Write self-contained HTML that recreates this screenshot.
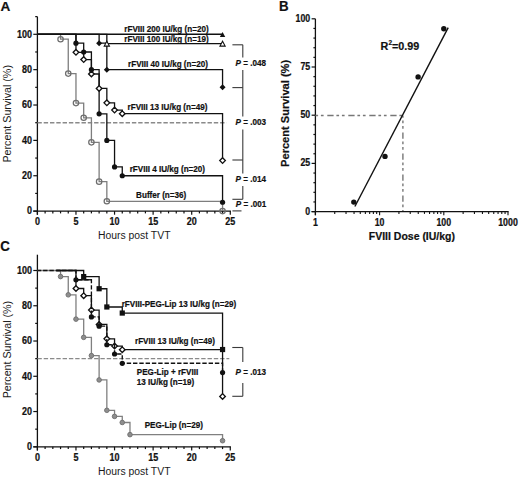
<!DOCTYPE html>
<html><head><meta charset="utf-8"><style>
html,body{margin:0;padding:0;background:#fff;}
body{width:520px;height:479px;overflow:hidden;}
svg{display:block;}
text{stroke:#111;stroke-width:0.2px;}
</style></head><body>
<svg width="520" height="479" viewBox="0 0 520 479">
<rect width="520" height="479" fill="#fff"/>
<text transform="translate(0.60,10.60) scale(1,1.0)" text-anchor="start" font-size="13.6" font-weight="bold" font-family="'Liberation Sans', sans-serif" fill="#111">A</text>
<line x1="37.40" y1="16.62" x2="37.40" y2="214.70" stroke="#111" stroke-width="1.3"/>
<line x1="33.30" y1="211.10" x2="230.88" y2="211.10" stroke="#111" stroke-width="1.3"/>
<line x1="33.30" y1="211.10" x2="37.40" y2="211.10" stroke="#111" stroke-width="1.2"/>
<text transform="translate(31.90,214.40) scale(1,1.16)" text-anchor="end" font-size="9" font-weight="bold" font-family="'Liberation Sans', sans-serif" fill="#111">0</text>
<line x1="35.20" y1="193.42" x2="37.40" y2="193.42" stroke="#111" stroke-width="1.2"/>
<line x1="33.30" y1="175.74" x2="37.40" y2="175.74" stroke="#111" stroke-width="1.2"/>
<text transform="translate(31.90,179.04) scale(1,1.16)" text-anchor="end" font-size="9" font-weight="bold" font-family="'Liberation Sans', sans-serif" fill="#111">20</text>
<line x1="35.20" y1="158.06" x2="37.40" y2="158.06" stroke="#111" stroke-width="1.2"/>
<line x1="33.30" y1="140.38" x2="37.40" y2="140.38" stroke="#111" stroke-width="1.2"/>
<text transform="translate(31.90,143.68) scale(1,1.16)" text-anchor="end" font-size="9" font-weight="bold" font-family="'Liberation Sans', sans-serif" fill="#111">40</text>
<line x1="35.20" y1="122.70" x2="37.40" y2="122.70" stroke="#111" stroke-width="1.2"/>
<line x1="33.30" y1="105.02" x2="37.40" y2="105.02" stroke="#111" stroke-width="1.2"/>
<text transform="translate(31.90,108.32) scale(1,1.16)" text-anchor="end" font-size="9" font-weight="bold" font-family="'Liberation Sans', sans-serif" fill="#111">60</text>
<line x1="35.20" y1="87.34" x2="37.40" y2="87.34" stroke="#111" stroke-width="1.2"/>
<line x1="33.30" y1="69.66" x2="37.40" y2="69.66" stroke="#111" stroke-width="1.2"/>
<text transform="translate(31.90,72.96) scale(1,1.16)" text-anchor="end" font-size="9" font-weight="bold" font-family="'Liberation Sans', sans-serif" fill="#111">80</text>
<line x1="35.20" y1="51.98" x2="37.40" y2="51.98" stroke="#111" stroke-width="1.2"/>
<line x1="33.30" y1="34.30" x2="37.40" y2="34.30" stroke="#111" stroke-width="1.2"/>
<text transform="translate(31.90,37.60) scale(1,1.16)" text-anchor="end" font-size="9" font-weight="bold" font-family="'Liberation Sans', sans-serif" fill="#111">100</text>
<line x1="35.20" y1="16.62" x2="37.40" y2="16.62" stroke="#111" stroke-width="1.2"/>
<line x1="37.40" y1="211.10" x2="37.40" y2="214.70" stroke="#111" stroke-width="1.2"/>
<text transform="translate(37.40,225.30) scale(1,1.16)" text-anchor="middle" font-size="9" font-weight="bold" font-family="'Liberation Sans', sans-serif" fill="#111">0</text>
<line x1="45.11" y1="211.10" x2="45.11" y2="213.40" stroke="#111" stroke-width="1.2"/>
<line x1="52.83" y1="211.10" x2="52.83" y2="213.40" stroke="#111" stroke-width="1.2"/>
<line x1="60.55" y1="211.10" x2="60.55" y2="213.40" stroke="#111" stroke-width="1.2"/>
<line x1="68.26" y1="211.10" x2="68.26" y2="213.40" stroke="#111" stroke-width="1.2"/>
<line x1="75.97" y1="211.10" x2="75.97" y2="214.70" stroke="#111" stroke-width="1.2"/>
<text transform="translate(75.97,225.30) scale(1,1.16)" text-anchor="middle" font-size="9" font-weight="bold" font-family="'Liberation Sans', sans-serif" fill="#111">5</text>
<line x1="83.69" y1="211.10" x2="83.69" y2="213.40" stroke="#111" stroke-width="1.2"/>
<line x1="91.41" y1="211.10" x2="91.41" y2="213.40" stroke="#111" stroke-width="1.2"/>
<line x1="99.12" y1="211.10" x2="99.12" y2="213.40" stroke="#111" stroke-width="1.2"/>
<line x1="106.84" y1="211.10" x2="106.84" y2="213.40" stroke="#111" stroke-width="1.2"/>
<line x1="114.55" y1="211.10" x2="114.55" y2="214.70" stroke="#111" stroke-width="1.2"/>
<text transform="translate(114.55,225.30) scale(1,1.16)" text-anchor="middle" font-size="9" font-weight="bold" font-family="'Liberation Sans', sans-serif" fill="#111">10</text>
<line x1="122.26" y1="211.10" x2="122.26" y2="213.40" stroke="#111" stroke-width="1.2"/>
<line x1="129.98" y1="211.10" x2="129.98" y2="213.40" stroke="#111" stroke-width="1.2"/>
<line x1="137.69" y1="211.10" x2="137.69" y2="213.40" stroke="#111" stroke-width="1.2"/>
<line x1="145.41" y1="211.10" x2="145.41" y2="213.40" stroke="#111" stroke-width="1.2"/>
<line x1="153.12" y1="211.10" x2="153.12" y2="214.70" stroke="#111" stroke-width="1.2"/>
<text transform="translate(153.12,225.30) scale(1,1.16)" text-anchor="middle" font-size="9" font-weight="bold" font-family="'Liberation Sans', sans-serif" fill="#111">15</text>
<line x1="160.84" y1="211.10" x2="160.84" y2="213.40" stroke="#111" stroke-width="1.2"/>
<line x1="168.56" y1="211.10" x2="168.56" y2="213.40" stroke="#111" stroke-width="1.2"/>
<line x1="176.27" y1="211.10" x2="176.27" y2="213.40" stroke="#111" stroke-width="1.2"/>
<line x1="183.99" y1="211.10" x2="183.99" y2="213.40" stroke="#111" stroke-width="1.2"/>
<line x1="191.70" y1="211.10" x2="191.70" y2="214.70" stroke="#111" stroke-width="1.2"/>
<text transform="translate(191.70,225.30) scale(1,1.16)" text-anchor="middle" font-size="9" font-weight="bold" font-family="'Liberation Sans', sans-serif" fill="#111">20</text>
<line x1="199.41" y1="211.10" x2="199.41" y2="213.40" stroke="#111" stroke-width="1.2"/>
<line x1="207.13" y1="211.10" x2="207.13" y2="213.40" stroke="#111" stroke-width="1.2"/>
<line x1="214.84" y1="211.10" x2="214.84" y2="213.40" stroke="#111" stroke-width="1.2"/>
<line x1="222.56" y1="211.10" x2="222.56" y2="213.40" stroke="#111" stroke-width="1.2"/>
<line x1="230.28" y1="211.10" x2="230.28" y2="214.70" stroke="#111" stroke-width="1.2"/>
<text transform="translate(230.28,225.30) scale(1,1.16)" text-anchor="middle" font-size="9" font-weight="bold" font-family="'Liberation Sans', sans-serif" fill="#111">25</text>
<text transform="translate(10.60,113.80) rotate(-90) scale(1.02,1)" text-anchor="middle" font-size="10.5" font-family="'Liberation Sans', sans-serif" fill="#1a1a1a" style="stroke:none">Percent Survival (%)</text>
<text transform="translate(134.20,239.40) scale(1,1.08)" text-anchor="middle" font-size="10.4" font-family="'Liberation Sans', sans-serif" fill="#1a1a1a" style="stroke:none">Hours post TVT</text>
<line x1="37.40" y1="122.70" x2="226.50" y2="122.70" stroke="#8a8a8a" stroke-width="1.4" stroke-dasharray="4.4 1.9"/>
<path d="M37.40,34.30 H60.55 V39.21 H68.26 V73.59 H75.97 V103.06 H83.69 V117.79 H91.41 V142.34 H99.12 V181.63 H106.84 V201.28 H222.56 V211.10" fill="none" stroke="#7e7e7e" stroke-width="1.3"/>
<path d="M37.40,34.30 H75.97 V43.14 H83.69 V51.98 H91.41 V69.66 H99.12 V113.86 H106.84 V140.38 H114.55 V166.90 H122.26 V175.74 H222.56 V202.26" fill="none" stroke="#111" stroke-width="1.3"/>
<path d="M37.40,34.30 H75.97 V52.34 H83.69 V59.56 H91.41 V73.99 H99.12 V88.42 H106.84 V102.86 H114.55 V110.07 H122.26 V113.68 H222.56 V160.59" fill="none" stroke="#111" stroke-width="1.3"/>
<path d="M37.40,34.30 H99.12 V43.14 H106.84 V69.66 H222.56 V87.34" fill="none" stroke="#111" stroke-width="1.3"/>
<path d="M37.40,34.30 H106.84 V43.61 H222.56 V43.61" fill="none" stroke="#111" stroke-width="1.3"/>
<path d="M37.40,34.30 H222.56 V34.30" fill="none" stroke="#111" stroke-width="1.4"/>
<circle cx="60.55" cy="39.21" r="2.7" fill="none" stroke="#6e6e6e" stroke-width="1.25"/>
<circle cx="68.26" cy="73.59" r="2.7" fill="none" stroke="#6e6e6e" stroke-width="1.25"/>
<circle cx="75.97" cy="103.06" r="2.7" fill="none" stroke="#6e6e6e" stroke-width="1.25"/>
<circle cx="83.69" cy="117.79" r="2.7" fill="none" stroke="#6e6e6e" stroke-width="1.25"/>
<circle cx="91.41" cy="142.34" r="2.7" fill="none" stroke="#6e6e6e" stroke-width="1.25"/>
<circle cx="99.12" cy="181.63" r="2.7" fill="none" stroke="#6e6e6e" stroke-width="1.25"/>
<circle cx="106.84" cy="201.28" r="2.7" fill="none" stroke="#6e6e6e" stroke-width="1.25"/>
<circle cx="222.56" cy="211.10" r="2.7" fill="none" stroke="#6e6e6e" stroke-width="1.25"/>
<circle cx="75.97" cy="43.14" r="2.6" fill="#111"/>
<circle cx="83.69" cy="51.98" r="2.6" fill="#111"/>
<circle cx="91.41" cy="69.66" r="2.6" fill="#111"/>
<circle cx="99.12" cy="113.86" r="2.6" fill="#111"/>
<circle cx="106.84" cy="140.38" r="2.6" fill="#111"/>
<circle cx="114.55" cy="166.90" r="2.6" fill="#111"/>
<circle cx="122.26" cy="175.74" r="2.6" fill="#111"/>
<circle cx="222.56" cy="202.26" r="2.6" fill="#111"/>
<path d="M75.97,49.54L78.77,52.34L75.97,55.14L73.17,52.34Z" fill="#fff" stroke="#111" stroke-width="1.35"/>
<path d="M83.69,56.76L86.49,59.56L83.69,62.36L80.89,59.56Z" fill="#fff" stroke="#111" stroke-width="1.35"/>
<path d="M91.41,71.19L94.20,73.99L91.41,76.79L88.61,73.99Z" fill="#fff" stroke="#111" stroke-width="1.35"/>
<path d="M99.12,85.62L101.92,88.42L99.12,91.22L96.32,88.42Z" fill="#fff" stroke="#111" stroke-width="1.35"/>
<path d="M106.84,100.06L109.64,102.86L106.84,105.66L104.04,102.86Z" fill="#fff" stroke="#111" stroke-width="1.35"/>
<path d="M114.55,107.27L117.35,110.07L114.55,112.87L111.75,110.07Z" fill="#fff" stroke="#111" stroke-width="1.35"/>
<path d="M122.26,110.88L125.06,113.68L122.26,116.48L119.46,113.68Z" fill="#fff" stroke="#111" stroke-width="1.35"/>
<path d="M222.56,157.79L225.36,160.59L222.56,163.39L219.76,160.59Z" fill="#fff" stroke="#111" stroke-width="1.35"/>
<path d="M99.12,40.14L102.12,43.14L99.12,46.14L96.12,43.14Z" fill="#111"/>
<path d="M106.84,66.66L109.84,69.66L106.84,72.66L103.84,69.66Z" fill="#111"/>
<path d="M222.56,84.34L225.56,87.34L222.56,90.34L219.56,87.34Z" fill="#111"/>
<path d="M106.84,41.21L109.44,46.11L104.24,46.11Z" fill="#fff" stroke="#111" stroke-width="1.1"/>
<path d="M222.56,41.21L225.16,46.11L219.96,46.11Z" fill="#fff" stroke="#111" stroke-width="1.1"/>
<path d="M222.56,31.90L225.26,36.90L219.86,36.90Z" fill="#111"/>
<text transform="translate(124.30,31.60) scale(1,1.08)" text-anchor="start" font-size="8.1" font-weight="bold" font-family="'Liberation Sans', sans-serif" fill="#111">rFVIII 200 IU/kg (n=20)</text>
<text transform="translate(124.30,42.20) scale(1,1.08)" text-anchor="start" font-size="8.1" font-weight="bold" font-family="'Liberation Sans', sans-serif" fill="#111">rFVIII 100 IU/kg (n=19)</text>
<text transform="translate(128.10,66.50) scale(1,1.08)" text-anchor="start" font-size="8.1" font-weight="bold" font-family="'Liberation Sans', sans-serif" fill="#111">rFVIII 40 IU/kg (n=20)</text>
<text transform="translate(127.60,110.00) scale(1,1.08)" text-anchor="start" font-size="8.1" font-weight="bold" font-family="'Liberation Sans', sans-serif" fill="#111">rFVIII 13 IU/kg (n=49)</text>
<text transform="translate(129.70,172.20) scale(1,1.08)" text-anchor="start" font-size="8.1" font-weight="bold" font-family="'Liberation Sans', sans-serif" fill="#111">rFVIII 4 IU/kg (n=20)</text>
<text transform="translate(136.10,197.50) scale(1,1.08)" text-anchor="start" font-size="8.1" font-weight="bold" font-family="'Liberation Sans', sans-serif" fill="#111">Buffer (n=36)</text>
<line x1="232.40" y1="44.80" x2="242.80" y2="44.80" stroke="#3a3a3a" stroke-width="1.1"/>
<line x1="232.40" y1="87.60" x2="242.80" y2="87.60" stroke="#3a3a3a" stroke-width="1.1"/>
<line x1="232.40" y1="160.00" x2="242.80" y2="160.00" stroke="#3a3a3a" stroke-width="1.1"/>
<line x1="232.40" y1="199.30" x2="242.80" y2="199.30" stroke="#3a3a3a" stroke-width="1.1"/>
<line x1="232.40" y1="210.90" x2="241.50" y2="210.90" stroke="#3a3a3a" stroke-width="1.1"/>
<line x1="242.80" y1="44.80" x2="242.80" y2="57.50" stroke="#3a3a3a" stroke-width="1.1"/>
<line x1="242.80" y1="70.00" x2="242.80" y2="116.50" stroke="#3a3a3a" stroke-width="1.1"/>
<line x1="242.80" y1="129.50" x2="242.80" y2="173.50" stroke="#3a3a3a" stroke-width="1.1"/>
<line x1="242.80" y1="186.00" x2="242.80" y2="199.30" stroke="#3a3a3a" stroke-width="1.1"/>
<text transform="translate(235.60,66.20) scale(1,1.08)" font-size="8.1" font-weight="bold" font-family="'Liberation Sans', sans-serif" fill="#111"><tspan font-style="italic">P</tspan> = .048</text>
<text transform="translate(235.60,125.40) scale(1,1.08)" font-size="8.1" font-weight="bold" font-family="'Liberation Sans', sans-serif" fill="#111"><tspan font-style="italic">P</tspan> = .003</text>
<text transform="translate(235.60,182.20) scale(1,1.08)" font-size="8.1" font-weight="bold" font-family="'Liberation Sans', sans-serif" fill="#111"><tspan font-style="italic">P</tspan> = .014</text>
<text transform="translate(235.80,207.40) scale(1,1.08)" font-size="8.1" font-weight="bold" font-family="'Liberation Sans', sans-serif" fill="#111"><tspan font-style="italic">P</tspan> = .001</text>
<text transform="translate(278.90,10.50) scale(1,1.06)" text-anchor="start" font-size="13.3" font-weight="bold" font-family="'Liberation Sans', sans-serif" fill="#111">B</text>
<line x1="315.40" y1="18.80" x2="315.40" y2="215.20" stroke="#111" stroke-width="1.3"/>
<line x1="311.60" y1="211.60" x2="508.60" y2="211.60" stroke="#111" stroke-width="1.3"/>
<line x1="311.60" y1="211.60" x2="315.40" y2="211.60" stroke="#111" stroke-width="1.2"/>
<text transform="translate(310.20,214.50) scale(1,1.16)" text-anchor="end" font-size="8.8" font-weight="bold" font-family="'Liberation Sans', sans-serif" fill="#111">0</text>
<line x1="313.40" y1="201.96" x2="315.40" y2="201.96" stroke="#111" stroke-width="1.2"/>
<line x1="313.40" y1="192.32" x2="315.40" y2="192.32" stroke="#111" stroke-width="1.2"/>
<line x1="313.40" y1="182.68" x2="315.40" y2="182.68" stroke="#111" stroke-width="1.2"/>
<line x1="313.40" y1="173.04" x2="315.40" y2="173.04" stroke="#111" stroke-width="1.2"/>
<line x1="311.60" y1="163.40" x2="315.40" y2="163.40" stroke="#111" stroke-width="1.2"/>
<text transform="translate(310.20,166.30) scale(1,1.16)" text-anchor="end" font-size="8.8" font-weight="bold" font-family="'Liberation Sans', sans-serif" fill="#111">25</text>
<line x1="313.40" y1="153.76" x2="315.40" y2="153.76" stroke="#111" stroke-width="1.2"/>
<line x1="313.40" y1="144.12" x2="315.40" y2="144.12" stroke="#111" stroke-width="1.2"/>
<line x1="313.40" y1="134.48" x2="315.40" y2="134.48" stroke="#111" stroke-width="1.2"/>
<line x1="313.40" y1="124.84" x2="315.40" y2="124.84" stroke="#111" stroke-width="1.2"/>
<line x1="311.60" y1="115.20" x2="315.40" y2="115.20" stroke="#111" stroke-width="1.2"/>
<text transform="translate(310.20,118.10) scale(1,1.16)" text-anchor="end" font-size="8.8" font-weight="bold" font-family="'Liberation Sans', sans-serif" fill="#111">50</text>
<line x1="313.40" y1="105.56" x2="315.40" y2="105.56" stroke="#111" stroke-width="1.2"/>
<line x1="313.40" y1="95.92" x2="315.40" y2="95.92" stroke="#111" stroke-width="1.2"/>
<line x1="313.40" y1="86.28" x2="315.40" y2="86.28" stroke="#111" stroke-width="1.2"/>
<line x1="313.40" y1="76.64" x2="315.40" y2="76.64" stroke="#111" stroke-width="1.2"/>
<line x1="311.60" y1="67.00" x2="315.40" y2="67.00" stroke="#111" stroke-width="1.2"/>
<text transform="translate(310.20,69.90) scale(1,1.16)" text-anchor="end" font-size="8.8" font-weight="bold" font-family="'Liberation Sans', sans-serif" fill="#111">75</text>
<line x1="313.40" y1="57.36" x2="315.40" y2="57.36" stroke="#111" stroke-width="1.2"/>
<line x1="313.40" y1="47.72" x2="315.40" y2="47.72" stroke="#111" stroke-width="1.2"/>
<line x1="313.40" y1="38.08" x2="315.40" y2="38.08" stroke="#111" stroke-width="1.2"/>
<line x1="313.40" y1="28.44" x2="315.40" y2="28.44" stroke="#111" stroke-width="1.2"/>
<line x1="311.60" y1="18.80" x2="315.40" y2="18.80" stroke="#111" stroke-width="1.2"/>
<text transform="translate(310.20,21.70) scale(1,1.16)" text-anchor="end" font-size="8.8" font-weight="bold" font-family="'Liberation Sans', sans-serif" fill="#111">100</text>
<line x1="315.40" y1="211.60" x2="315.40" y2="215.20" stroke="#111" stroke-width="1.1"/>
<line x1="334.73" y1="211.60" x2="334.73" y2="213.90" stroke="#111" stroke-width="1.1"/>
<line x1="346.03" y1="211.60" x2="346.03" y2="213.90" stroke="#111" stroke-width="1.1"/>
<line x1="354.05" y1="211.60" x2="354.05" y2="213.90" stroke="#111" stroke-width="1.1"/>
<line x1="360.27" y1="211.60" x2="360.27" y2="213.90" stroke="#111" stroke-width="1.1"/>
<line x1="365.36" y1="211.60" x2="365.36" y2="213.90" stroke="#111" stroke-width="1.1"/>
<line x1="369.66" y1="211.60" x2="369.66" y2="213.90" stroke="#111" stroke-width="1.1"/>
<line x1="373.38" y1="211.60" x2="373.38" y2="213.90" stroke="#111" stroke-width="1.1"/>
<line x1="376.66" y1="211.60" x2="376.66" y2="213.90" stroke="#111" stroke-width="1.1"/>
<line x1="379.60" y1="211.60" x2="379.60" y2="215.20" stroke="#111" stroke-width="1.1"/>
<line x1="398.93" y1="211.60" x2="398.93" y2="213.90" stroke="#111" stroke-width="1.1"/>
<line x1="410.23" y1="211.60" x2="410.23" y2="213.90" stroke="#111" stroke-width="1.1"/>
<line x1="418.25" y1="211.60" x2="418.25" y2="213.90" stroke="#111" stroke-width="1.1"/>
<line x1="424.47" y1="211.60" x2="424.47" y2="213.90" stroke="#111" stroke-width="1.1"/>
<line x1="429.56" y1="211.60" x2="429.56" y2="213.90" stroke="#111" stroke-width="1.1"/>
<line x1="433.86" y1="211.60" x2="433.86" y2="213.90" stroke="#111" stroke-width="1.1"/>
<line x1="437.58" y1="211.60" x2="437.58" y2="213.90" stroke="#111" stroke-width="1.1"/>
<line x1="440.86" y1="211.60" x2="440.86" y2="213.90" stroke="#111" stroke-width="1.1"/>
<line x1="443.80" y1="211.60" x2="443.80" y2="215.20" stroke="#111" stroke-width="1.1"/>
<line x1="463.13" y1="211.60" x2="463.13" y2="213.90" stroke="#111" stroke-width="1.1"/>
<line x1="474.43" y1="211.60" x2="474.43" y2="213.90" stroke="#111" stroke-width="1.1"/>
<line x1="482.45" y1="211.60" x2="482.45" y2="213.90" stroke="#111" stroke-width="1.1"/>
<line x1="488.67" y1="211.60" x2="488.67" y2="213.90" stroke="#111" stroke-width="1.1"/>
<line x1="493.76" y1="211.60" x2="493.76" y2="213.90" stroke="#111" stroke-width="1.1"/>
<line x1="498.06" y1="211.60" x2="498.06" y2="213.90" stroke="#111" stroke-width="1.1"/>
<line x1="501.78" y1="211.60" x2="501.78" y2="213.90" stroke="#111" stroke-width="1.1"/>
<line x1="505.06" y1="211.60" x2="505.06" y2="213.90" stroke="#111" stroke-width="1.1"/>
<line x1="508.00" y1="211.60" x2="508.00" y2="215.20" stroke="#111" stroke-width="1.1"/>
<text transform="translate(315.40,226.00) scale(1,1.16)" text-anchor="middle" font-size="8.8" font-weight="bold" font-family="'Liberation Sans', sans-serif" fill="#111">1</text>
<text transform="translate(379.60,226.00) scale(1,1.16)" text-anchor="middle" font-size="8.8" font-weight="bold" font-family="'Liberation Sans', sans-serif" fill="#111">10</text>
<text transform="translate(443.80,226.00) scale(1,1.16)" text-anchor="middle" font-size="8.8" font-weight="bold" font-family="'Liberation Sans', sans-serif" fill="#111">100</text>
<text transform="translate(508.00,226.00) scale(1,1.16)" text-anchor="middle" font-size="8.8" font-weight="bold" font-family="'Liberation Sans', sans-serif" fill="#111">1000</text>
<text transform="translate(289.30,113.40) rotate(-90) scale(1.055,1)" text-anchor="middle" font-size="10.5" font-weight="bold" font-family="'Liberation Sans', sans-serif" fill="#111">Percent Survival (%)</text>
<text transform="translate(411.90,240.20) scale(1,1.08)" text-anchor="middle" font-size="10.5" font-weight="bold" font-family="'Liberation Sans', sans-serif" fill="#111">FVIII Dose (IU/kg)</text>
<line x1="315.40" y1="115.50" x2="402.90" y2="115.50" stroke="#777" stroke-width="1.4" stroke-dasharray="6.3 2.8 2.7 2.8 2.7 3.7" stroke-dashoffset="9.1"/>
<line x1="402.90" y1="115.50" x2="402.90" y2="211.00" stroke="#777" stroke-width="1.4" stroke-dasharray="6.3 2.8 2.7 2.8 2.7 3.7" stroke-dashoffset="4.1"/>
<line x1="354.90" y1="206.50" x2="448.20" y2="27.60" stroke="#111" stroke-width="1.4"/>
<circle cx="353.8" cy="202.1" r="2.7" fill="#111"/>
<circle cx="385" cy="156.4" r="2.7" fill="#111"/>
<circle cx="418.1" cy="76.9" r="2.7" fill="#111"/>
<circle cx="443.8" cy="28.7" r="2.7" fill="#111"/>
<text transform="translate(380.6,49.6) scale(1,1.08)" font-size="10.8" font-weight="bold" font-family="'Liberation Sans', sans-serif" fill="#111">R<tspan font-size="6.5" dy="-4.2">2</tspan><tspan dy="4.2">=0.99</tspan></text>
<text transform="translate(0.20,251.10) scale(1,1.04)" text-anchor="start" font-size="13.3" font-weight="bold" font-family="'Liberation Sans', sans-serif" fill="#111">C</text>
<line x1="37.40" y1="254.70" x2="37.40" y2="450.40" stroke="#111" stroke-width="1.3"/>
<line x1="33.30" y1="446.80" x2="230.88" y2="446.80" stroke="#111" stroke-width="1.3"/>
<line x1="33.30" y1="446.80" x2="37.40" y2="446.80" stroke="#111" stroke-width="1.2"/>
<text transform="translate(31.90,450.10) scale(1,1.16)" text-anchor="end" font-size="9" font-weight="bold" font-family="'Liberation Sans', sans-serif" fill="#111">0</text>
<line x1="35.20" y1="429.17" x2="37.40" y2="429.17" stroke="#111" stroke-width="1.2"/>
<line x1="33.30" y1="411.54" x2="37.40" y2="411.54" stroke="#111" stroke-width="1.2"/>
<text transform="translate(31.90,414.84) scale(1,1.16)" text-anchor="end" font-size="9" font-weight="bold" font-family="'Liberation Sans', sans-serif" fill="#111">20</text>
<line x1="35.20" y1="393.91" x2="37.40" y2="393.91" stroke="#111" stroke-width="1.2"/>
<line x1="33.30" y1="376.28" x2="37.40" y2="376.28" stroke="#111" stroke-width="1.2"/>
<text transform="translate(31.90,379.58) scale(1,1.16)" text-anchor="end" font-size="9" font-weight="bold" font-family="'Liberation Sans', sans-serif" fill="#111">40</text>
<line x1="35.20" y1="358.65" x2="37.40" y2="358.65" stroke="#111" stroke-width="1.2"/>
<line x1="33.30" y1="341.02" x2="37.40" y2="341.02" stroke="#111" stroke-width="1.2"/>
<text transform="translate(31.90,344.32) scale(1,1.16)" text-anchor="end" font-size="9" font-weight="bold" font-family="'Liberation Sans', sans-serif" fill="#111">60</text>
<line x1="35.20" y1="323.39" x2="37.40" y2="323.39" stroke="#111" stroke-width="1.2"/>
<line x1="33.30" y1="305.76" x2="37.40" y2="305.76" stroke="#111" stroke-width="1.2"/>
<text transform="translate(31.90,309.06) scale(1,1.16)" text-anchor="end" font-size="9" font-weight="bold" font-family="'Liberation Sans', sans-serif" fill="#111">80</text>
<line x1="35.20" y1="288.13" x2="37.40" y2="288.13" stroke="#111" stroke-width="1.2"/>
<line x1="33.30" y1="270.50" x2="37.40" y2="270.50" stroke="#111" stroke-width="1.2"/>
<text transform="translate(31.90,273.80) scale(1,1.16)" text-anchor="end" font-size="9" font-weight="bold" font-family="'Liberation Sans', sans-serif" fill="#111">100</text>
<line x1="37.40" y1="446.80" x2="37.40" y2="450.40" stroke="#111" stroke-width="1.2"/>
<text transform="translate(37.40,461.00) scale(1,1.16)" text-anchor="middle" font-size="9" font-weight="bold" font-family="'Liberation Sans', sans-serif" fill="#111">0</text>
<line x1="45.11" y1="446.80" x2="45.11" y2="449.10" stroke="#111" stroke-width="1.2"/>
<line x1="52.83" y1="446.80" x2="52.83" y2="449.10" stroke="#111" stroke-width="1.2"/>
<line x1="60.55" y1="446.80" x2="60.55" y2="449.10" stroke="#111" stroke-width="1.2"/>
<line x1="68.26" y1="446.80" x2="68.26" y2="449.10" stroke="#111" stroke-width="1.2"/>
<line x1="75.97" y1="446.80" x2="75.97" y2="450.40" stroke="#111" stroke-width="1.2"/>
<text transform="translate(75.97,461.00) scale(1,1.16)" text-anchor="middle" font-size="9" font-weight="bold" font-family="'Liberation Sans', sans-serif" fill="#111">5</text>
<line x1="83.69" y1="446.80" x2="83.69" y2="449.10" stroke="#111" stroke-width="1.2"/>
<line x1="91.41" y1="446.80" x2="91.41" y2="449.10" stroke="#111" stroke-width="1.2"/>
<line x1="99.12" y1="446.80" x2="99.12" y2="449.10" stroke="#111" stroke-width="1.2"/>
<line x1="106.84" y1="446.80" x2="106.84" y2="449.10" stroke="#111" stroke-width="1.2"/>
<line x1="114.55" y1="446.80" x2="114.55" y2="450.40" stroke="#111" stroke-width="1.2"/>
<text transform="translate(114.55,461.00) scale(1,1.16)" text-anchor="middle" font-size="9" font-weight="bold" font-family="'Liberation Sans', sans-serif" fill="#111">10</text>
<line x1="122.26" y1="446.80" x2="122.26" y2="449.10" stroke="#111" stroke-width="1.2"/>
<line x1="129.98" y1="446.80" x2="129.98" y2="449.10" stroke="#111" stroke-width="1.2"/>
<line x1="137.69" y1="446.80" x2="137.69" y2="449.10" stroke="#111" stroke-width="1.2"/>
<line x1="145.41" y1="446.80" x2="145.41" y2="449.10" stroke="#111" stroke-width="1.2"/>
<line x1="153.12" y1="446.80" x2="153.12" y2="450.40" stroke="#111" stroke-width="1.2"/>
<text transform="translate(153.12,461.00) scale(1,1.16)" text-anchor="middle" font-size="9" font-weight="bold" font-family="'Liberation Sans', sans-serif" fill="#111">15</text>
<line x1="160.84" y1="446.80" x2="160.84" y2="449.10" stroke="#111" stroke-width="1.2"/>
<line x1="168.56" y1="446.80" x2="168.56" y2="449.10" stroke="#111" stroke-width="1.2"/>
<line x1="176.27" y1="446.80" x2="176.27" y2="449.10" stroke="#111" stroke-width="1.2"/>
<line x1="183.99" y1="446.80" x2="183.99" y2="449.10" stroke="#111" stroke-width="1.2"/>
<line x1="191.70" y1="446.80" x2="191.70" y2="450.40" stroke="#111" stroke-width="1.2"/>
<text transform="translate(191.70,461.00) scale(1,1.16)" text-anchor="middle" font-size="9" font-weight="bold" font-family="'Liberation Sans', sans-serif" fill="#111">20</text>
<line x1="199.41" y1="446.80" x2="199.41" y2="449.10" stroke="#111" stroke-width="1.2"/>
<line x1="207.13" y1="446.80" x2="207.13" y2="449.10" stroke="#111" stroke-width="1.2"/>
<line x1="214.84" y1="446.80" x2="214.84" y2="449.10" stroke="#111" stroke-width="1.2"/>
<line x1="222.56" y1="446.80" x2="222.56" y2="449.10" stroke="#111" stroke-width="1.2"/>
<line x1="230.28" y1="446.80" x2="230.28" y2="450.40" stroke="#111" stroke-width="1.2"/>
<text transform="translate(230.28,461.00) scale(1,1.16)" text-anchor="middle" font-size="9" font-weight="bold" font-family="'Liberation Sans', sans-serif" fill="#111">25</text>
<text transform="translate(10.60,349.60) rotate(-90) scale(1.02,1)" text-anchor="middle" font-size="10.5" font-family="'Liberation Sans', sans-serif" fill="#1a1a1a" style="stroke:none">Percent Survival (%)</text>
<text transform="translate(134.20,474.90) scale(1,1.08)" text-anchor="middle" font-size="10.4" font-family="'Liberation Sans', sans-serif" fill="#1a1a1a" style="stroke:none">Hours post TVT</text>
<line x1="37.40" y1="358.65" x2="229.30" y2="358.65" stroke="#8a8a8a" stroke-width="1.4" stroke-dasharray="4.4 1.9"/>
<path d="M37.40,270.50 H60.55 V276.58 H68.26 V294.82 H75.97 V319.13 H83.69 V337.37 H91.41 V355.61 H99.12 V379.93 H106.84 V410.32 H114.55 V416.40 H122.26 V422.48 H129.98 V434.64 H222.56 V440.72" fill="none" stroke="#808080" stroke-width="1.3"/>
<circle cx="60.55" cy="276.58" r="2.3" fill="#8e8e8e" stroke="#6e6e6e" stroke-width="0.9"/>
<circle cx="68.26" cy="294.82" r="2.3" fill="#8e8e8e" stroke="#6e6e6e" stroke-width="0.9"/>
<circle cx="75.97" cy="319.13" r="2.3" fill="#8e8e8e" stroke="#6e6e6e" stroke-width="0.9"/>
<circle cx="83.69" cy="337.37" r="2.3" fill="#8e8e8e" stroke="#6e6e6e" stroke-width="0.9"/>
<circle cx="91.41" cy="355.61" r="2.3" fill="#8e8e8e" stroke="#6e6e6e" stroke-width="0.9"/>
<circle cx="99.12" cy="379.93" r="2.3" fill="#8e8e8e" stroke="#6e6e6e" stroke-width="0.9"/>
<circle cx="106.84" cy="410.32" r="2.3" fill="#8e8e8e" stroke="#6e6e6e" stroke-width="0.9"/>
<circle cx="114.55" cy="416.40" r="2.3" fill="#8e8e8e" stroke="#6e6e6e" stroke-width="0.9"/>
<circle cx="122.26" cy="422.48" r="2.3" fill="#8e8e8e" stroke="#6e6e6e" stroke-width="0.9"/>
<circle cx="129.98" cy="434.64" r="2.3" fill="#8e8e8e" stroke="#6e6e6e" stroke-width="0.9"/>
<circle cx="222.56" cy="440.72" r="2.3" fill="#8e8e8e" stroke="#6e6e6e" stroke-width="0.9"/>
<path d="M56.30,270.50 H83.69 V276.58 H99.12 V288.74 H106.84 V306.98 H122.26 V313.06 H222.56 V349.53" fill="none" stroke="#111" stroke-width="1.3"/>
<path d="M56.30,270.50 H75.97 V288.49 H83.69 V295.69 H91.41 V310.08 H99.12 V324.47 H106.84 V338.86 H114.55 V346.06 H122.26 V349.66 H222.56 V396.43" fill="none" stroke="#111" stroke-width="1.3"/>
<path d="M75.97,285.69L78.77,288.49L75.97,291.29L73.17,288.49Z" fill="#fff" stroke="#111" stroke-width="1.35"/>
<path d="M83.69,292.89L86.49,295.69L83.69,298.49L80.89,295.69Z" fill="#fff" stroke="#111" stroke-width="1.35"/>
<path d="M91.41,307.28L94.20,310.08L91.41,312.88L88.61,310.08Z" fill="#fff" stroke="#111" stroke-width="1.35"/>
<path d="M99.12,321.67L101.92,324.47L99.12,327.27L96.32,324.47Z" fill="#fff" stroke="#111" stroke-width="1.35"/>
<path d="M106.84,336.06L109.64,338.86L106.84,341.66L104.04,338.86Z" fill="#fff" stroke="#111" stroke-width="1.35"/>
<path d="M114.55,343.26L117.35,346.06L114.55,348.86L111.75,346.06Z" fill="#fff" stroke="#111" stroke-width="1.35"/>
<path d="M122.26,346.86L125.06,349.66L122.26,352.46L119.46,349.66Z" fill="#fff" stroke="#111" stroke-width="1.35"/>
<path d="M222.56,393.63L225.36,396.43L222.56,399.23L219.76,396.43Z" fill="#fff" stroke="#111" stroke-width="1.35"/>
<path d="M37.40,270.50 H75.97 V279.78 H91.41 V316.89 H99.12 V326.17 H106.84 V344.73 H114.55 V354.01 H122.26 V363.29 H222.56 V372.57" fill="none" stroke="#111" stroke-width="1.35" stroke-dasharray="4.4 1.9" stroke-dashoffset="0.6"/>
<line x1="75.97" y1="279.78" x2="91.41" y2="279.78" stroke="#111" stroke-width="1.35"/>
<circle cx="75.97" cy="279.78" r="2.6" fill="#111"/>
<circle cx="91.41" cy="316.89" r="2.6" fill="#111"/>
<circle cx="99.12" cy="326.17" r="2.6" fill="#111"/>
<circle cx="106.84" cy="344.73" r="2.6" fill="#111"/>
<circle cx="114.55" cy="354.01" r="2.6" fill="#111"/>
<circle cx="122.26" cy="363.29" r="2.6" fill="#111"/>
<circle cx="222.56" cy="372.57" r="2.6" fill="#111"/>
<rect x="81.09" y="273.98" width="5.20" height="5.20" fill="#111"/>
<rect x="96.52" y="286.14" width="5.20" height="5.20" fill="#111"/>
<rect x="104.24" y="304.38" width="5.20" height="5.20" fill="#111"/>
<rect x="119.66" y="310.46" width="5.20" height="5.20" fill="#111"/>
<rect x="219.96" y="346.93" width="5.20" height="5.20" fill="#111"/>
<text transform="translate(121.70,307.00) scale(1,1.08)" text-anchor="start" font-size="8.1" font-weight="bold" font-family="'Liberation Sans', sans-serif" fill="#111">rFVIII-PEG-Lip 13 IU/kg (n=29)</text>
<text transform="translate(135.00,343.60) scale(1,1.08)" text-anchor="start" font-size="8.1" font-weight="bold" font-family="'Liberation Sans', sans-serif" fill="#111">rFVIII 13 IU/kg (n=49)</text>
<text transform="translate(136.80,374.80) scale(1,1.08)" text-anchor="start" font-size="8.1" font-weight="bold" font-family="'Liberation Sans', sans-serif" fill="#111">PEG-Lip + rFVIII</text>
<text transform="translate(136.80,384.60) scale(1,1.08)" text-anchor="start" font-size="8.1" font-weight="bold" font-family="'Liberation Sans', sans-serif" fill="#111">13 IU/kg (n=19)</text>
<text transform="translate(144.70,428.20) scale(1,1.08)" text-anchor="start" font-size="8.1" font-weight="bold" font-family="'Liberation Sans', sans-serif" fill="#111">PEG-Lip (n=29)</text>
<line x1="232.30" y1="347.50" x2="242.80" y2="347.50" stroke="#3a3a3a" stroke-width="1.1"/>
<line x1="232.30" y1="396.30" x2="242.80" y2="396.30" stroke="#3a3a3a" stroke-width="1.1"/>
<line x1="242.80" y1="347.50" x2="242.80" y2="361.90" stroke="#3a3a3a" stroke-width="1.1"/>
<line x1="242.80" y1="383.10" x2="242.80" y2="396.30" stroke="#3a3a3a" stroke-width="1.1"/>
<text transform="translate(235.60,374.70) scale(1,1.08)" font-size="8.1" font-weight="bold" font-family="'Liberation Sans', sans-serif" fill="#111"><tspan font-style="italic">P</tspan> = .013</text>
</svg>
</body></html>
